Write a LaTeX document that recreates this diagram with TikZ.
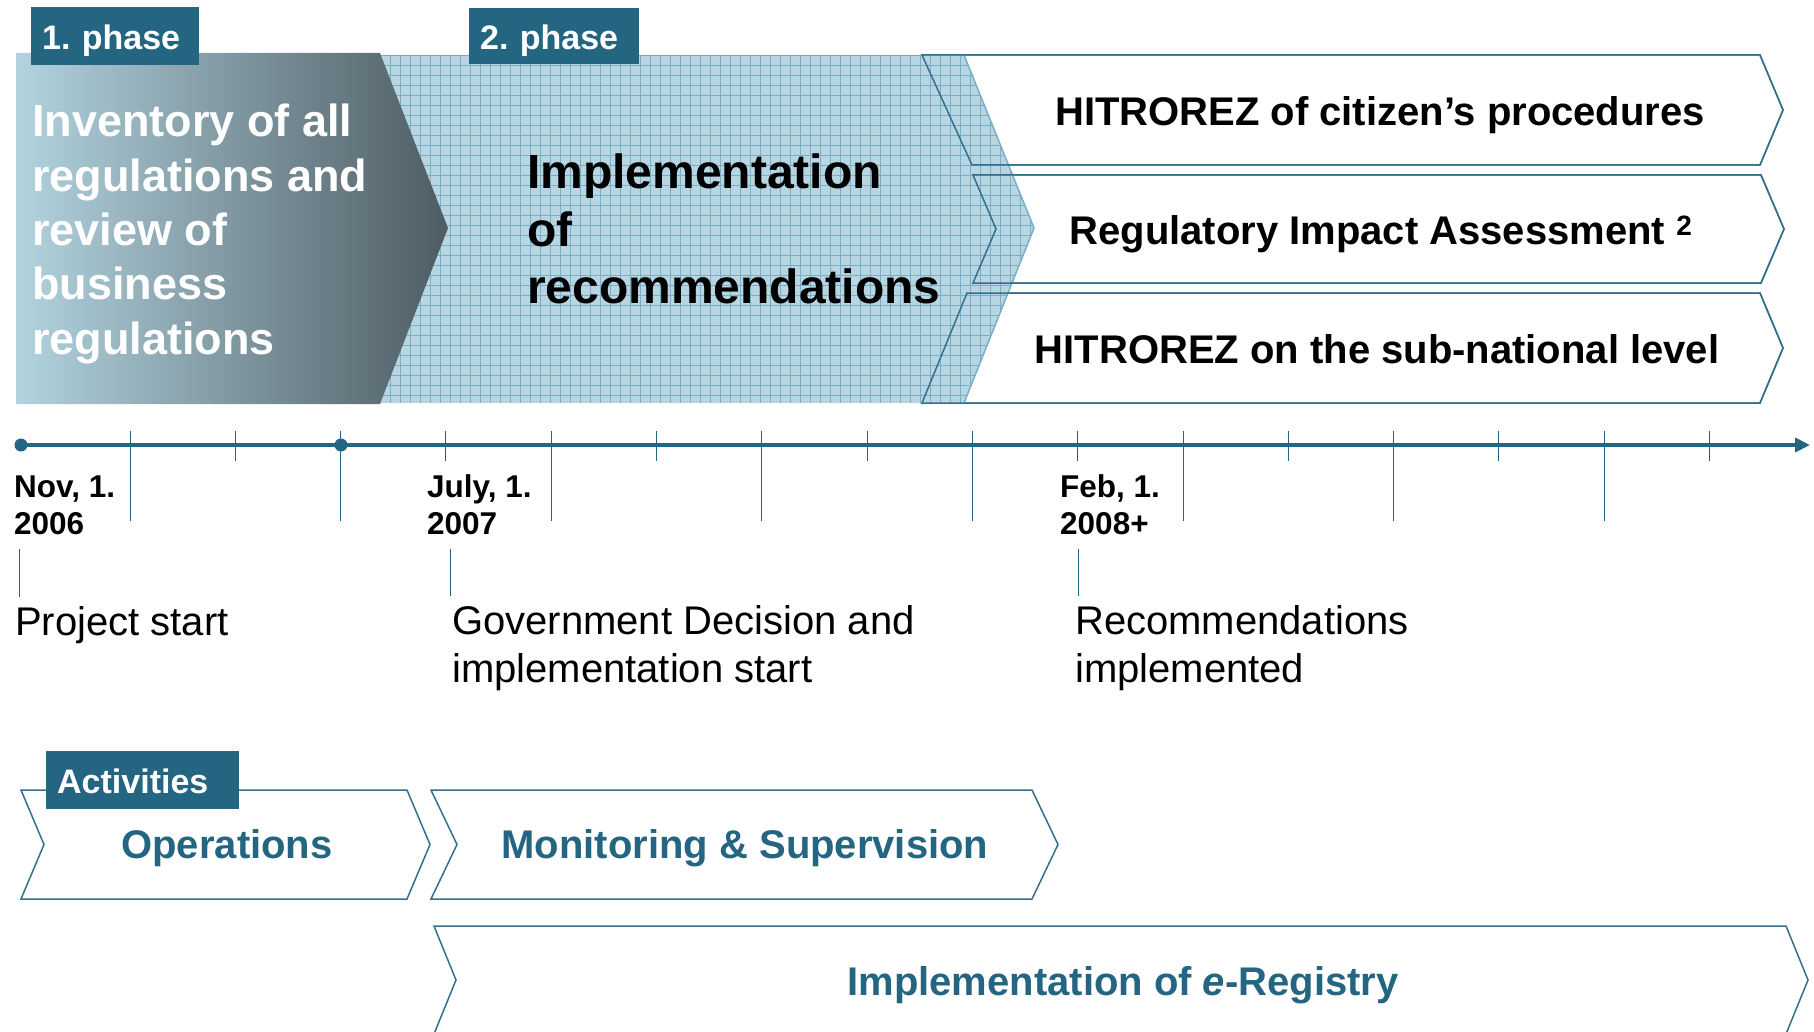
\documentclass[tikz,border=0pt]{standalone}
\usepackage{fontspec}
\setmainfont{Liberation Sans}
\usepackage{xcolor}
\usepackage{tikz}
\usetikzlibrary{arrows.meta,calc}
\frenchspacing
\definecolor{hitro}{RGB}{36,101,130}
\definecolor{boxedge}{RGB}{52,112,140}
\definecolor{gridfill}{RGB}{184,214,226}
\definecolor{gridline}{RGB}{122,174,198}
\definecolor{phaseA}{RGB}{178,211,223}
\definecolor{phaseB}{RGB}{78,92,99}
\newcommand{\TickN}{15}
\tikzset{
  chev/.style={draw=boxedge, line width=1.5pt, fill=white},
  chevline/.style={draw=boxedge, line width=1.5pt},
  hatchline/.style={draw=gridline, line width=0.8pt},
  tab/.style={fill=hitro, text=white, font=\fontsize{34}{40}\selectfont\bfseries,
    anchor=north west, align=left, inner xsep=11pt, inner ysep=0pt,
    text height=29pt, text depth=3pt, minimum height=58pt},
  phasetext/.style={font=\fontsize{45}{54.3}\selectfont\bfseries, align=left, inner sep=0pt, anchor=west},
  boxtext/.style={font=\fontsize{40}{48}\selectfont\bfseries, anchor=base, inner sep=0pt},
  acttext/.style={text=hitro, font=\fontsize{40}{48}\selectfont\bfseries, anchor=base, inner sep=0pt},
  datelbl/.style={font=\fontsize{31.5}{37}\selectfont\bfseries, align=left, inner sep=0pt, anchor=west},
  evlbl/.style={font=\fontsize{40}{48}\selectfont, align=left, inner sep=0pt, anchor=west},
  timeline/.style={draw=hitro, line width=4.5pt, -{Triangle[length=15pt,width=14pt]}},
  dot/.style={circle, fill=hitro, minimum size=13pt, inner sep=0pt},
  tick/.style={draw=hitro, line width=1pt},
  marker/.style={draw=hitro, line width=1pt}
}
% chevron with notch: [style]{x left}{x right}{y top}{y bottom}{notch}
\newcommand{\DrawChevron}[6][chev]{%
  \pgfmathsetmacro{\ymid}{(#4+#5)/2}%
  \draw[#1] (#2,#4) -- (#3,#4) -- ({#3+#6},\ymid) -- (#3,#5) -- (#2,#5) -- ({#2+#6},\ymid) -- cycle;
}
\newcommand{\PhaseTwoPath}{(380,55) -- (964,55) -- (1034,228) -- (964,403) -- (380,403) -- cycle}
\newcommand{\DrawHatch}{%
  \foreach \x in {380,390,...,1040}{%
    \draw[hatchline] (\x,55) -- (\x,403);
  }%
  \foreach \y in {55,65,...,405}{%
    \draw[hatchline] (380,\y) -- (1040,\y);
  }%
}

\begin{document}
\begin{tikzpicture}[x=1pt, y=-1pt]
  \useasboundingbox (0,0) rectangle (1814,1032);
  % follow-up boxes of phase 2
  \draw[chev] (922,55) -- (1760,55) -- (1783,110) -- (1760,165) -- (972,165) -- cycle;
  \DrawChevron{973}{1761}{175}{283}{23}
  \draw[chev] (967,293) -- (1760,293) -- (1783,348) -- (1760,403) -- (922,403) -- cycle;
  % hatched phase 2 arrow
  \fill[gridfill] \PhaseTwoPath;
  \begin{scope}
    \clip \PhaseTwoPath;
    \DrawHatch
  \end{scope}
  \draw[hatchline, line width=1.5pt] (964,55) -- (1034,228) -- (964,403);
  % box outlines again, over the hatch
  \draw[chevline] (922,55) -- (1760,55) -- (1783,110) -- (1760,165) -- (972,165) -- cycle;
  \DrawChevron[chevline]{973}{1761}{175}{283}{23}
  \draw[chevline] (967,293) -- (1760,293) -- (1783,348) -- (1760,403) -- (922,403) -- cycle;
  % phase 1 arrow
  \shade[left color=phaseA, right color=phaseB] (16,53) -- (380,53) -- (448,228) -- (380,404) -- (16,404) -- cycle;
  \node[tab, text width=146pt] (tabA) at (31,7) {1. phase};
  \node[tab, text width=148pt, minimum height=56pt] (tabB) at (469,8) {2. phase};
  \node[phasetext, text=white] (inv) at (32,234) {Inventory of all\\regulations and\\review of\\business\\regulations};
  \node[phasetext, font=\fontsize{48}{57.5}\selectfont\bfseries] (impl) at (527,229) {Implementation\\of\\recommendations};
  \node[boxtext] (bxA) at (1380,126) {HITROREZ of citizen’s procedures};
  \node[boxtext] (bxB) at (1381,245) {Regulatory Impact Assessment \textsuperscript{2}};
  \node[boxtext] (bxC) at (1377,363) {HITROREZ on the sub-national level};
  % time axis
  \node[dot] (d0) at (21,445) {};
  \node[dot] (d1) at (341,445) {};
  \coordinate (tEnd) at (1810,445);
  \foreach \i in {0,...,\TickN}{%
    \pgfmathsetmacro{\tx}{130+105.3*\i}%
    \pgfmathsetmacro{\tlen}{mod(\i,2)==0 ? 521 : 461}%
    \draw[tick] (\tx,431) -- (\tx,\tlen);
  }
  \draw[timeline] (d0.center) -- (tEnd);
  % milestones
  \node[datelbl] (dA) at (14,505) {Nov, 1.\\2006};
  \node[datelbl] (dB) at (427,505) {July, 1.\\2007};
  \node[datelbl] (dC) at (1060,505) {Feb, 1.\\2008+};
  \node[evlbl, anchor=base west] (evA) at (15,635) {Project start};
  \node[evlbl] (evB) at (452,648) {Government Decision and\\implementation start};
  \node[evlbl] (evC) at (1075,648) {Recommendations\\implemented};
  \coordinate (mA) at (19,0);
  \coordinate (mB) at (450,0);
  \coordinate (mC) at (1078,0);
  \draw[marker] ($(dA.south -| mA)+(0,14)$) -- ($(evA.north -| mA)+(0,-9)$);
  \draw[marker] ($(dB.south -| mB)+(0,14)$) -- ($(evB.north -| mB)+(0,-9)$);
  \draw[marker] ($(dC.south -| mC)+(0,14)$) -- ($(evC.north -| mC)+(0,-9)$);
  % activities
  \DrawChevron{21}{407}{790}{899}{23}
  \DrawChevron{431}{1032}{790}{899}{26}
  \DrawChevron{434}{1786}{926}{1034}{22}
  \node[tab, text width=171pt] (tabC) at (46,751) {Activities};
  \node[acttext] (ops) at (227,858) {Operations};
  \node[acttext] (mon) at (745,858) {Monitoring \& Supervision};
  \node[acttext] (ereg) at (1123,995) {Implementation of \textit{e}-Registry};
\end{tikzpicture}
\end{document}
